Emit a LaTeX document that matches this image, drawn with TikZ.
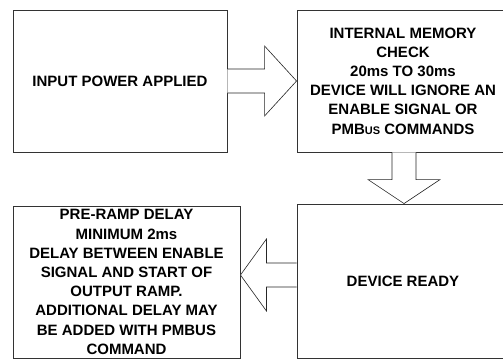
\documentclass[tikz,border=0pt]{standalone}
\usepackage{fontspec}
\setmainfont{Liberation Sans}
\usetikzlibrary{calc}
\tikzset{
  boxnode/.style={draw=black!80, line width=0.9pt, align=center, inner sep=0pt,
    font=\fontsize{15}{19.2}\selectfont\bfseries},
  blockarrow/.style={draw=black!85, line width=0.6pt, fill=white, line join=miter}
}
\begin{document}
\begin{tikzpicture}[x=1pt,y=-1pt]
\useasboundingbox (0,0) rectangle (503,359);
\clip (0,0) rectangle (503,359);
\fill[white] (0,0) rectangle (503,359);
\node[boxnode, minimum width=214pt, minimum height=142pt] (b1) at (120,81) {INPUT POWER APPLIED};
\node[boxnode, minimum width=212pt, minimum height=142pt] (b2) at (403,81)
  {INTERNAL MEMORY\\CHECK\\20ms TO 30ms\\DEVICE WILL IGNORE AN\\ENABLE SIGNAL OR\\PMB{\fontsize{11}{12}\selectfont US} COMMANDS};
\node[boxnode, minimum width=212pt, minimum height=154pt] (b3) at (403,281) {DEVICE READY};
\node[boxnode, minimum width=227pt, minimum height=152pt] (b4) at (126.5,282)
  {PRE-RAMP DELAY\\MINIMUM 2ms\\DELAY BETWEEN ENABLE\\SIGNAL AND START OF\\OUTPUT RAMP.\\ADDITIONAL DELAY MAY\\BE ADDED WITH PMBUS\\COMMAND};
% right arrow b1 -> b2
\coordinate (ra) at (b1.east);
\coordinate (rt) at (b2.west);
\draw[blockarrow] ($(ra)+(0,-12)$) -- ($(rt)+(-32,-12)$) -- ($(rt)+(-32,-35)$) -- (rt)
  -- ($(rt)+(-32,35)$) -- ($(rt)+(-32,12)$) -- ($(ra)+(0,12)$);
% down arrow b2 -> b3
\coordinate (da) at ($(b2.south)+(1,0)$);
\coordinate (dt) at ($(b3.north)+(1,0)$);
\draw[blockarrow] ($(da)+(-12,0)$) -- ($(dt)+(-12,-24)$) -- ($(dt)+(-36,-24)$) -- (dt)
  -- ($(dt)+(36,-24)$) -- ($(dt)+(12,-24)$) -- ($(da)+(12,0)$);
% left arrow b3 -> b4
\coordinate (la) at ($(b3.west)+(0,-6)$);
\coordinate (lt) at ($(b4.east)+(0,-7)$);
\draw[blockarrow] ($(la)+(0,-12)$) -- ($(lt)+(26,-12)$) -- ($(lt)+(26,-36)$) -- (lt)
  -- ($(lt)+(26,36)$) -- ($(lt)+(26,12)$) -- ($(la)+(0,12)$);
\end{tikzpicture}
\end{document}
